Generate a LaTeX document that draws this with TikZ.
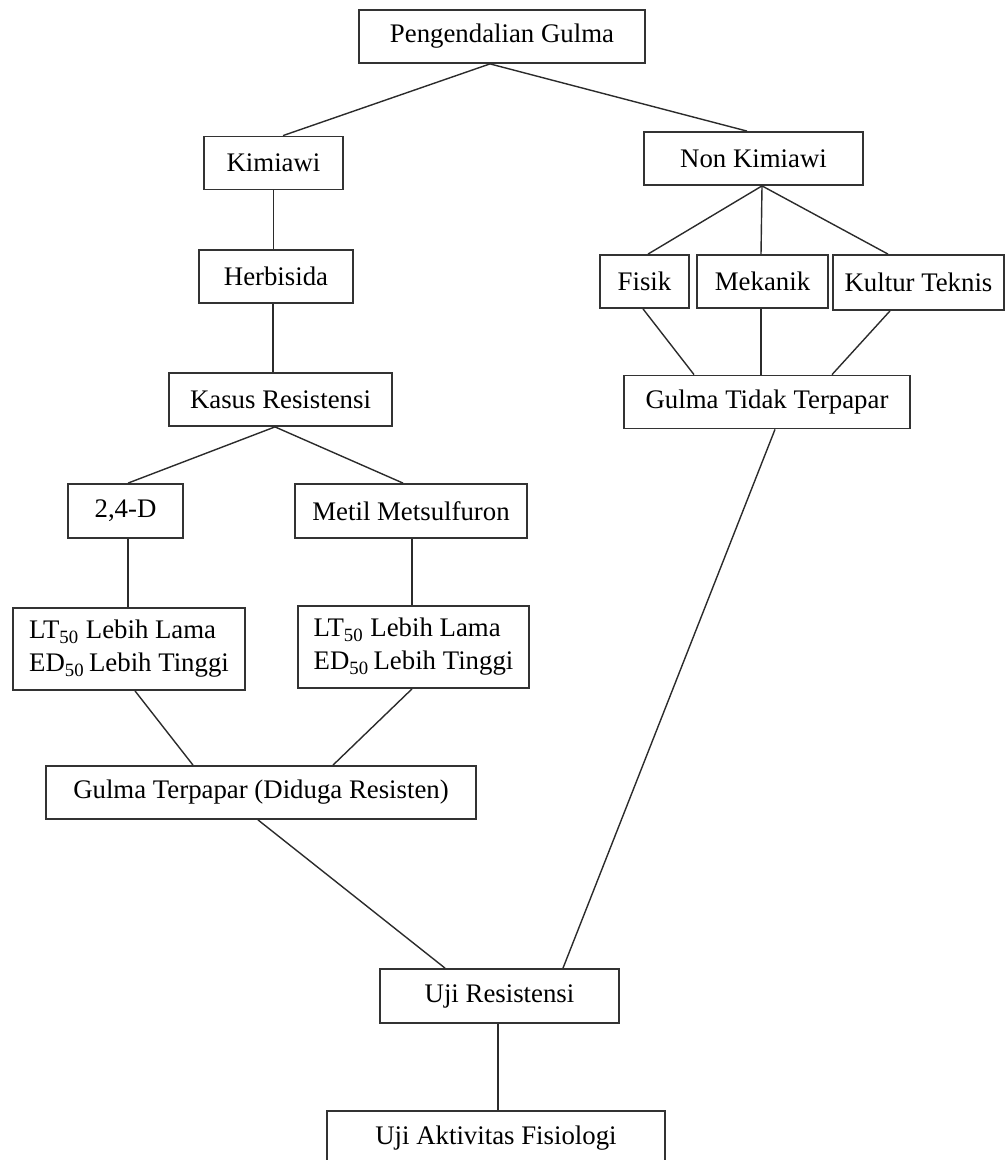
\documentclass[tikz,border=0pt]{standalone}
\usepackage{fontspec}
\setmainfont{Liberation Serif}
\usepackage{xcolor}
\usepackage{tikz}
\usetikzlibrary{positioning, calc}
\definecolor{boxdraw}{HTML}{333333}
\definecolor{linkdraw}{HTML}{2B2B2B}
\tikzset{
  blk/.style={rectangle, draw=boxdraw, line width=0.9pt, align=center, font=\fontsize{13.4}{16.5}\selectfont, inner sep=2pt},
  box/.style={blk, minimum height=26.5pt},
  tallbox/.style={blk, minimum height=41pt, align=left},
  link/.style={line width=0.7pt, draw=linkdraw},
}

\begin{document}
\begin{tikzpicture}[x=0.5pt, y=-0.5pt]
  \useasboundingbox (0,0) rectangle (1006,1160);
  % top level
  \node[box, minimum width=143pt] (pg) at (502,36.5) {Pengendalian Gulma};
  \node[box, minimum width=69.5pt] (kim) at (273.5,163) {Kimiawi};
  \node[box, minimum width=109.5pt] (nonkim) at (753.5,158.5) {Non Kimiawi};
  % chemical branch
  \node[box, minimum width=77pt] (herb) at (276,276.5) {Herbisida};
  \node[box, minimum width=111.5pt] (kasus) at (280.5,399.5) {Kasus Resistensi};
  \node[box, minimum width=57.5pt, minimum height=27pt] (d24) at (125.5,511) {2,4-D};
  \node[box, minimum width=116pt, minimum height=27pt] (metil) at (411,511) {Metil Metsulfuron};
  \node[tallbox, minimum width=116pt] (ltl) at (129,649) {LT\textsubscript{50} Lebih Lama\\ED\textsubscript{50}\,Lebih Tinggi};
  \node[tallbox, minimum width=115.5pt] (ltr) at (413.5,647) {LT\textsubscript{50} Lebih Lama\\ED\textsubscript{50}\,Lebih Tinggi};
  \node[box, minimum width=215pt] (gtr) at (261,792.5) {Gulma Terpapar (Diduga Resisten)};
  % non chemical branch
  \node[box, minimum width=44.5pt] (fisik) at (644.5,281.5) {Fisik};
  \node[box, minimum width=65.5pt] (mek) at (762.5,281.5) {Mekanik};
  \node[box, minimum width=85.5pt, minimum height=27.5pt] (kultur) at (918.5,282.5) {Kultur Teknis};
  \node[box, minimum width=143pt] (gtt) at (767,402) {Gulma Tidak Terpapar};
  % tests
  \node[box, minimum width=119.5pt, minimum height=27pt] (ujires) at (499.5,996) {Uji Resistensi};
  \node[box, minimum width=169pt, minimum height=27pt] (ujiakt) at (496,1138) {Uji Aktivitas Fisiologi};

  \draw[link] ($(pg.south)+(-12,0)$) -- ($(kim.north)+(9.5,0)$);
  \draw[link] ($(pg.south)+(-12,0)$) -- ($(nonkim.north)+(-6.5,0)$);
  \draw[link] (kim.south) -- (kim.south |- herb.north);
  \draw[link] ($(herb.south)+(-3,0)$) -- ($(kasus.north)+(-7.5,0)$);
  \draw[link] ($(kasus.south)+(-5.5,0)$) -- ($(d24.north)+(2.5,0)$);
  \draw[link] ($(kasus.south)+(-5.5,0)$) -- ($(metil.north)+(-8,0)$);
  \draw[link] ($(d24.south)+(2.5,0)$) -- ($(ltl.north)+(-1,0)$);
  \draw[link] ($(metil.south)+(1,0)$) -- ($(ltr.north)+(-1.5,0)$);
  \draw[link] ($(ltl.south)+(6,0)$) -- ($(gtr.north)+(-68,0)$);
  \draw[link] ($(ltr.south)+(-1.5,0)$) -- ($(gtr.north)+(72,0)$);
  \draw[link] ($(gtr.south)+(-3,0)$) -- ($(ujires.north)+(-54.5,0)$);
  \draw[link] ($(nonkim.south)+(8.5,0)$) -- ($(fisik.north)+(3.5,0)$);
  \draw[link] ($(nonkim.south)+(8.5,0)$) -- ($(mek.north)+(-1.5,0)$);
  \draw[link] ($(nonkim.south)+(8.5,0)$) -- ($(kultur.north)+(-30.5,0)$);
  \draw[link] ($(fisik.south)+(-1.5,0)$) -- ($(gtt.north)+(-73,0)$);
  \draw[link] ($(mek.south)+(-1.5,0)$) -- ($(gtt.north)+(-6,0)$);
  \draw[link] ($(kultur.south)+(-28.5,0)$) -- ($(gtt.north)+(65,0)$);
  \draw[link] ($(gtt.south)+(8,0)$) -- ($(ujires.north)+(63.5,0)$);
  \draw[link] ($(ujires.south)+(-1.5,0)$) -- ($(ujiakt.north)+(2,0)$);
\end{tikzpicture}
\end{document}
